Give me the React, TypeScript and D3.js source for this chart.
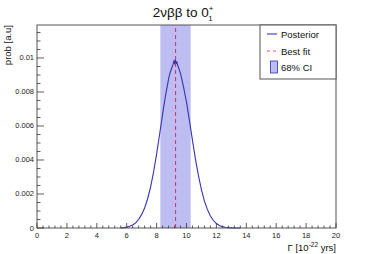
import React, { useEffect, useRef } from 'react';
import * as d3 from 'd3';

// posterior (bin centre, probability)
const gammaX = [
  5.6, 5.8, 6.0, 6.2, 6.4, 6.6, 6.8, 7.0, 7.2, 7.4, 7.6, 7.8, 8.0, 8.2, 8.4, 8.6, 8.8,
  8.9, 9.0, 9.1, 9.15, 9.2, 9.25, 9.3, 9.35, 9.4, 9.5, 9.6, 9.7, 9.8, 10.0, 10.2, 10.4,
  10.6, 10.8, 11.0, 11.2, 11.4, 11.6, 11.8, 12.0, 12.2, 12.4, 12.6, 12.8, 13.0, 13.2, 13.6,
];
const posterior = [
  0.0, 0.00002, 0.00005, 0.0001, 0.00018, 0.0003, 0.0005, 0.0008, 0.00118, 0.00172, 0.00242,
  0.0033, 0.00435, 0.0055, 0.00668, 0.0078, 0.00875, 0.00912, 0.00938, 0.00962, 0.0098,
  0.00968, 0.00992, 0.00965, 0.0098, 0.0096, 0.00935, 0.0091, 0.0087, 0.0083, 0.0074,
  0.0063, 0.00515, 0.00405, 0.00308, 0.00225, 0.00158, 0.00108, 0.0007, 0.00044, 0.00026,
  0.00015, 0.00008, 0.00004, 0.00002, 0.00001, 0.0, 0.0,
];
const bestFit = 9.27;
const ciRange = [8.25, 10.28];
const xTicks = [0, 2, 4, 6, 8, 10, 12, 14, 16, 18, 20];
const yTicks = [0, 0.002, 0.004, 0.006, 0.008, 0.01];
const legendItems = ['Posterior', 'Best fit', '68% CI'];

const W = 374;
const H = 254;
const m = { left: 37, right: 38, top: 25, bottom: 26 };
const font = 'Liberation Sans, Arial, Helvetica, sans-serif';

export default function App() {
  const ref = useRef<SVGSVGElement>(null);

  useEffect(() => {
    const svg = d3.select(ref.current);
    svg.selectAll('*').remove();

    const x = d3.scaleLinear().domain([0, 20]).range([m.left, W - m.right]);
    const y = d3.scaleLinear().domain([0, 0.01194]).range([H - m.bottom, m.top]);

    svg.append('rect').attr('width', W).attr('height', H).attr('fill', 'white');

    // 68% CI band
    svg
      .append('rect')
      .attr('x', x(ciRange[0]))
      .attr('y', y.range()[1])
      .attr('width', x(ciRange[1]) - x(ciRange[0]))
      .attr('height', y.range()[0] - y.range()[1])
      .attr('fill', '#bdbdf2');

    // posterior curve
    const line = d3
      .line<number>()
      .x((d, i) => x(gammaX[i]))
      .y((d) => y(d));
    svg
      .append('path')
      .datum(posterior)
      .attr('d', line)
      .attr('fill', 'none')
      .attr('stroke', '#3434b4')
      .attr('stroke-width', 1.1);

    // best fit
    svg
      .append('line')
      .attr('x1', x(bestFit))
      .attr('x2', x(bestFit))
      .attr('y1', y.range()[0])
      .attr('y2', y.range()[1])
      .attr('stroke', '#d0306a')
      .attr('stroke-width', 1)
      .attr('stroke-dasharray', '4,3');

    // frame
    svg
      .append('rect')
      .attr('x', m.left)
      .attr('y', m.top)
      .attr('width', W - m.left - m.right)
      .attr('height', H - m.top - m.bottom)
      .attr('fill', 'none')
      .attr('stroke', '#555')
      .attr('stroke-width', 1);

    // x ticks (inside, upward)
    const y0 = y(0);
    const xMinor = d3.range(0, 20.001, 0.4);
    svg
      .append('g')
      .selectAll('line')
      .data(xMinor)
      .join('line')
      .attr('x1', (d) => x(d))
      .attr('x2', (d) => x(d))
      .attr('y1', y0)
      .attr('y2', (d) => y0 - (xTicks.some((t) => Math.abs(t - d) < 1e-6) ? 5 : 2.5))
      .attr('stroke', '#333')
      .attr('stroke-width', 0.8);
    svg
      .append('g')
      .selectAll('text')
      .data(xTicks)
      .join('text')
      .attr('x', (d) => x(d))
      .attr('y', y0 + 10)
      .attr('text-anchor', 'middle')
      .attr('font-family', font)
      .attr('font-size', 7.5)
      .attr('fill', '#222')
      .text((d) => d);

    // y ticks (inside, rightward)
    const yMinor = d3.range(0, 0.0119, 0.0005);
    svg
      .append('g')
      .selectAll('line')
      .data(yMinor)
      .join('line')
      .attr('x1', m.left)
      .attr('x2', (d) => m.left + (Math.round(d * 10000) % 20 === 0 ? 7 : 3.5))
      .attr('y1', (d) => y(d))
      .attr('y2', (d) => y(d))
      .attr('stroke', '#333')
      .attr('stroke-width', 0.8);
    svg
      .append('g')
      .selectAll('text')
      .data(yTicks)
      .join('text')
      .attr('x', m.left - 3)
      .attr('y', (d) => y(d) + 2.5)
      .attr('text-anchor', 'end')
      .attr('font-family', font)
      .attr('font-size', 7.5)
      .attr('fill', '#222')
      .text((d) => (d === 0 ? '0' : String(+d.toFixed(3))));

    // title
    const title = svg
      .append('text')
      .attr('x', 183)
      .attr('y', 17)
      .attr('text-anchor', 'middle')
      .attr('font-family', font)
      .attr('font-size', 13.5)
      .attr('fill', '#111');
    title.append('tspan').text('2νββ to 0');
    title.append('tspan').attr('font-size', 8).attr('dy', -6).attr('dx', 0).text('+');
    title.append('tspan').attr('font-size', 8).attr('dy', 10).attr('dx', -5).text('1');

    // axis titles
    const xt = svg
      .append('text')
      .attr('x', W - m.right)
      .attr('y', 251)
      .attr('text-anchor', 'end')
      .attr('font-family', font)
      .attr('font-size', 9.5)
      .attr('fill', '#111');
    xt.append('tspan').text('Γ [10');
    xt.append('tspan').attr('font-size', 6.5).attr('dy', -4).text('-22');
    xt.append('tspan').attr('dy', 4).text(' yrs]');

    svg
      .append('text')
      .attr('transform', `translate(11,${m.top}) rotate(-90)`)
      .attr('text-anchor', 'end')
      .attr('font-family', font)
      .attr('font-size', 9.5)
      .attr('fill', '#111')
      .text('prob [a.u]');

    // legend
    const lg = svg.append('g');
    lg.append('rect')
      .attr('x', 260)
      .attr('y', m.top)
      .attr('width', W - m.right - 260)
      .attr('height', 54)
      .attr('fill', 'white')
      .attr('stroke', '#555')
      .attr('stroke-width', 1);
    const rowY = [34, 51, 67];
    lg.append('line')
      .attr('x1', 267).attr('x2', 277).attr('y1', rowY[0]).attr('y2', rowY[0])
      .attr('stroke', '#3434b4').attr('stroke-width', 1.1);
    lg.append('line')
      .attr('x1', 267).attr('x2', 277).attr('y1', rowY[1]).attr('y2', rowY[1])
      .attr('stroke', '#ff5050').attr('stroke-width', 1).attr('stroke-dasharray', '3,3');
    lg.append('rect')
      .attr('x', 270.5).attr('y', rowY[2] - 6).attr('width', 7).attr('height', 12)
      .attr('fill', '#bdbdf2').attr('stroke', '#3434b4').attr('stroke-width', 0.8);
    lg.selectAll('text.lbl')
      .data(legendItems)
      .join('text')
      .attr('class', 'lbl')
      .attr('x', 281)
      .attr('y', (d, i) => rowY[i] + 3.5)
      .attr('font-family', font)
      .attr('font-size', 9.5)
      .attr('fill', '#111')
      .text((d) => d);
  }, []);

  return (
    <svg
      ref={ref}
      width={W}
      height={H}
      style={{ position: 'absolute', left: 0, top: 0, display: 'block' }}
    />
  );
}
